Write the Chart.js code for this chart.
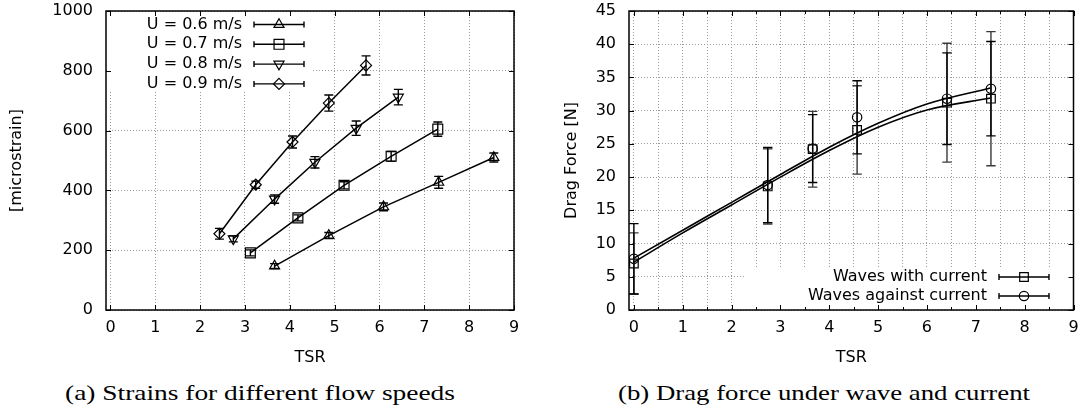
<!DOCTYPE html>
<html>
<head>
<meta charset="utf-8">
<script src="https://cdn.jsdelivr.net/npm/chart.js@4/dist/chart.umd.min.js"></script>
<style>
    html, body { margin: 0; padding: 0; background: #fff; }
    #wrap { position: relative; width: 1081px; height: 419px; background: #fff; overflow: hidden; }
    canvas { position: absolute; top: 0; }
    .caption {
        position: absolute; top: 381px; white-space: nowrap;
        font-family: 'Liberation Serif', 'DejaVu Serif', serif; font-size: 21px; color: #000;
        transform-origin: 0 0;
    }
</style>
</head>
<body>
<div id="wrap">
    <canvas id="strainChart" width="540" height="372" style="left:0"></canvas>
    <canvas id="dragChart" width="541" height="372" style="left:540px"></canvas>
    <div class="caption" id="capA" style="left:65px">(a) Strains for different flow speeds</div>
    <div class="caption" id="capB" style="left:618px">(b) Drag force under wave and current</div>
</div>
<script>
// ---- data ----
const tsrTicks = [0, 1, 2, 3, 4, 5, 6, 7, 8, 9];
const strainTicks = [0, 200, 400, 600, 800, 1000];

const u06Tsr = [3.66, 4.87, 6.09, 7.32, 8.55];
const u06Strain = [147, 249, 345, 427, 510];
const u06Err = [8, 10, 13, 20, 15];

const u07Tsr = [3.12, 4.18, 5.21, 6.26, 7.30];
const u07Strain = [191, 308, 417, 514, 605];
const u07Err = [10, 10, 12, 16, 24];

const u08Tsr = [2.74, 3.66, 4.56, 5.48, 6.42];
const u08Strain = [238, 371, 494, 608, 712];
const u08Err = [10, 14, 19, 24, 26];

const u09Tsr = [2.43, 3.24, 4.06, 4.87, 5.70];
const u09Strain = [255, 419, 562, 692, 818];
const u09Err = [18, 12, 20, 27, 32];

const dragTicksX = [0, 0.5, 1, 1.5, 2, 2.5, 3, 3.5, 4, 4.5, 5, 5.5, 6, 6.5, 7, 7.5, 8, 8.5, 9];
const dragTicksY = [0, 5, 10, 15, 20, 25, 30, 35, 40, 45];

const waveTsr = [0, 2.74, 3.66, 4.57, 6.41, 7.31];
const withForce = [7.0, 18.6, 24.2, 27.1, 31.2, 31.8];
const withErr = [4.6, 5.65, 5.7, 6.65, 8.95, 10.1];
const againstForce = [7.7, 18.8, 24.3, 29.0, 31.8, 33.3];
const againstErr = [5.3, 5.65, 5.1, 5.5, 6.9, 7.1];

// fitted curves
const fitTsr = [0, 1, 2, 3, 4, 5, 6, 7.3];
const withFit = [7.2, 11.6, 15.8, 20.0, 24.0, 27.5, 30.1, 31.9];
const againstFit = [7.8, 12.0, 16.2, 20.4, 24.5, 28.1, 31.0, 33.4];

Chart.defaults.font.family = "'DejaVu Sans', sans-serif";
Chart.defaults.font.size = 16;
Chart.defaults.color = '#000';

function pts(xs, ys) {
    return xs.map((x, i) => ({ x: x, y: ys[i] }));
}

function drawMarker(ctx, style, rotation, r, x, y) {
    ctx.save();
    ctx.translate(x, y);
    ctx.rotate(rotation * Math.PI / 180);
    ctx.beginPath();
    if (style === 'triangle') {
        for (let k = 0; k < 3; k++) {
            const a = k * 2 * Math.PI / 3;
            if (k === 0) ctx.moveTo(Math.sin(a) * r, -Math.cos(a) * r);
            else ctx.lineTo(Math.sin(a) * r, -Math.cos(a) * r);
        }
        ctx.closePath();
    } else if (style === 'rect') {
        const s = r * Math.SQRT1_2;
        ctx.rect(-s, -s, 2 * s, 2 * s);
    } else if (style === 'rectRot') {
        ctx.moveTo(0, -r); ctx.lineTo(r, 0); ctx.lineTo(0, r); ctx.lineTo(-r, 0);
        ctx.closePath();
    } else {
        ctx.arc(0, 0, r, 0, Math.PI * 2);
    }
    ctx.stroke();
    ctx.restore();
}

// gnuplot look: error bars, frame, inward ticks, legend inside the plot
const gnuplotLook = {
    id: 'gnuplotLook',
    beforeDatasetsDraw(chart, args, opts) {
        const ctx = chart.ctx;
        ctx.save();
        ctx.fillStyle = '#fff';
        const b = opts.box;
        ctx.fillRect(b[0], b[1], b[2] - b[0], b[3] - b[1]);
        ctx.restore();
    },
    afterDatasetsDraw(chart, args, opts) {
        const ctx = chart.ctx;
        const ca = chart.chartArea;
        const xs = chart.scales.x, ys = chart.scales.y;

        // error bars
        chart.data.datasets.forEach((ds) => {
            if (!ds.errors) return;
            ctx.save();
            ctx.strokeStyle = ds.errorColor || '#000';
            ctx.lineWidth = 1.4;
            ds.data.forEach((p, j) => {
                const e = ds.errors[j];
                const px = xs.getPixelForValue(p.x);
                const top = ys.getPixelForValue(p.y + e);
                const bot = ys.getPixelForValue(p.y - e);
                const c = opts.cap;
                ctx.beginPath();
                ctx.moveTo(px, top); ctx.lineTo(px, bot);
                ctx.moveTo(px - c, top); ctx.lineTo(px + c, top);
                ctx.moveTo(px - c, bot); ctx.lineTo(px + c, bot);
                ctx.stroke();
            });
            ctx.restore();
        });

        // inward tick marks
        ctx.save();
        ctx.strokeStyle = '#000';
        ctx.lineWidth = 1;
        ctx.beginPath();
        xs.ticks.forEach(t => {
            const px = Math.round(xs.getPixelForValue(t.value)) + 0.5;
            const len = Number.isInteger(t.value) ? 5 : 3;
            ctx.moveTo(px, ca.bottom); ctx.lineTo(px, ca.bottom - len);
            ctx.moveTo(px, ca.top); ctx.lineTo(px, ca.top + len);
        });
        ys.ticks.forEach(t => {
            const py = Math.round(ys.getPixelForValue(t.value)) + 0.5;
            ctx.moveTo(ca.left, py); ctx.lineTo(ca.left + 5, py);
            ctx.moveTo(ca.right, py); ctx.lineTo(ca.right - 5, py);
        });
        ctx.stroke();

        // frame
        ctx.lineWidth = 1.5;
        ctx.strokeRect(ca.left, ca.top, ca.right - ca.left, ca.bottom - ca.top);
        ctx.restore();

        // legend
        const lg = opts.legend;
        ctx.save();
        ctx.font = "16px 'DejaVu Sans', sans-serif";
        ctx.fillStyle = '#000';
        ctx.strokeStyle = '#000';
        ctx.textAlign = 'right';
        ctx.textBaseline = 'middle';
        let row = 0;
        chart.data.datasets.forEach((ds) => {
            if (!ds.label) return;
            const y = lg.y + row * lg.gap;
            ctx.fillText(ds.label, lg.x, y);
            ctx.lineWidth = 1.4;
            ctx.beginPath();
            ctx.moveTo(lg.x1, y); ctx.lineTo(lg.x2, y);
            ctx.moveTo(lg.x1, y - 3); ctx.lineTo(lg.x1, y + 3);
            ctx.moveTo(lg.x2, y - 3); ctx.lineTo(lg.x2, y + 3);
            ctx.stroke();
            ctx.lineWidth = 1.2;
            drawMarker(ctx, ds.pointStyle, ds.pointRotation || 0, ds.pointRadius, (lg.x1 + lg.x2) / 2, y);
            row++;
        });
        ctx.restore();
    }
};

function axisScales(xTicks, yTicks, xMin, xMax, yMax, yTitle, yW, yTitlePad) {
    return {
        x: {
            type: 'linear', min: xMin, max: xMax,
            afterBuildTicks: (axis) => { axis.ticks = xTicks.map(v => ({ value: v })); },
            afterFit: (axis) => { axis.height = 62; axis.paddingLeft = 0; axis.paddingRight = 0; },
            ticks: {
                padding: 8, maxRotation: 0, autoSkip: false,
                callback: (v) => Number.isInteger(v) ? String(v) : ''
            },
            grid: { color: '#9a9a9a', lineWidth: 1, drawTicks: false },
            border: { display: false, dash: [1, 2] },
            title: { display: true, text: 'TSR', padding: { top: 0, bottom: 5 } }
        },
        y: {
            type: 'linear', min: 0, max: yMax,
            afterBuildTicks: (axis) => { axis.ticks = yTicks.map(v => ({ value: v })); },
            afterFit: (axis) => { axis.width = yW; axis.paddingTop = 0; axis.paddingBottom = 0; },
            ticks: { padding: 13, autoSkip: false, callback: (v) => String(v) },
            grid: { color: '#9a9a9a', lineWidth: 1, drawTicks: false },
            border: { display: false, dash: [1, 2] },
            title: { display: true, text: yTitle, padding: { top: yTitlePad, bottom: 0 } }
        }
    };
}

function seriesLine(label, xs, ys, errs, style, radius, rotation) {
    return {
        label: label,
        data: pts(xs, ys),
        errors: errs,
        borderColor: '#000',
        borderWidth: 1.5,
        pointStyle: style,
        pointRadius: radius,
        pointRotation: rotation || 0,
        pointBorderWidth: 1.2,
        pointBackgroundColor: 'rgba(0,0,0,0)',
        pointBorderColor: '#000',
        tension: 0
    };
}

// (a) strains
new Chart(document.getElementById('strainChart'), {
    type: 'line',
    data: {
        datasets: [
            seriesLine('U = 0.6 m/s', u06Tsr, u06Strain, u06Err, 'triangle', 5.8),
            seriesLine('U = 0.7 m/s', u07Tsr, u07Strain, u07Err, 'rect', 7),
            seriesLine('U = 0.8 m/s', u08Tsr, u08Strain, u08Err, 'triangle', 5.8, 180),
            seriesLine('U = 0.9 m/s', u09Tsr, u09Strain, u09Err, 'rectRot', 5.5)
        ]
    },
    options: {
        responsive: false, animation: false, events: [],
        layout: { padding: { top: 11, right: 26, left: 0, bottom: 0 } },
        scales: axisScales(tsrTicks, strainTicks, -0.1, 9, 1000, '[microstrain]', 106, 7),
        plugins: {
            legend: { display: false }, tooltip: { enabled: false },
            gnuplotLook: {
                cap: 4.5,
                box: [108, 12, 312, 92],
                legend: { x: 242, y: 24.5, gap: 19.8, x1: 254, x2: 304 }
            }
        }
    },
    plugins: [gnuplotLook]
});

// (b) drag force
new Chart(document.getElementById('dragChart'), {
    type: 'line',
    data: {
        datasets: [
            {
                data: pts(fitTsr, withFit), borderColor: '#000', borderWidth: 1.6,
                pointRadius: 0, cubicInterpolationMode: 'monotone'
            },
            {
                data: pts(fitTsr, againstFit), borderColor: '#000', borderWidth: 1.6,
                pointRadius: 0, cubicInterpolationMode: 'monotone'
            },
            Object.assign(seriesLine('Waves with current', waveTsr, withForce, withErr, 'rect', 6.1),
                { showLine: false, errorColor: '#3a3a3a' }),
            Object.assign(seriesLine('Waves against current', waveTsr, againstForce, againstErr, 'circle', 4.7),
                { showLine: false, errorColor: '#000' })
        ]
    },
    options: {
        responsive: false, animation: false, events: [],
        layout: { padding: { top: 11, right: 7.5, left: 0, bottom: 0 } },
        scales: axisScales(dragTicksX, dragTicksY, -0.1, 9, 45, 'Drag Force [N]', 89, 22.5),
        plugins: {
            legend: { display: false }, tooltip: { enabled: false },
            gnuplotLook: {
                cap: 4.7,
                box: [206, 268, 532, 309],
                legend: { x: 447, y: 277, gap: 19, x1: 459, x2: 509 }
            }
        }
    },
    plugins: [gnuplotLook]
});

// stretch captions to the width they take in the figure
function fitCaption(id, width) {
    const el = document.getElementById(id);
    const w = el.getBoundingClientRect().width;
    el.style.transform = 'scaleX(' + (width / w) + ')';
}
fitCaption('capA', 390);
fitCaption('capB', 412);
</script>
</body>
</html>
